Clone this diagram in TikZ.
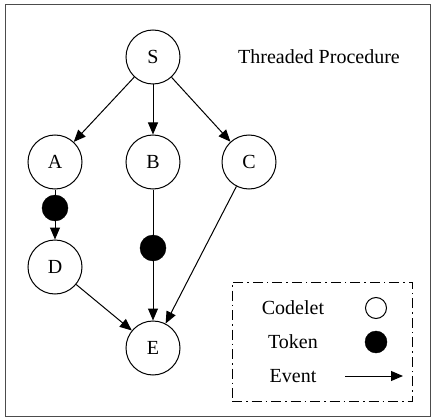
\documentclass[tikz,border=0pt]{standalone}
\usepackage{fontspec}
\setmainfont{Liberation Serif}
\usetikzlibrary{arrows.meta}
\begin{document}
\begin{tikzpicture}[x=1pt,y=-1pt,
  codelet/.style={circle,draw,line width=1pt,minimum size=54pt,inner sep=0pt,font=\fontsize{20}{24}\selectfont},
  token/.style={circle,fill=black,draw,minimum size=26pt,inner sep=0pt},
  edge/.style={line width=1pt,-{Triangle[length=12pt,width=10pt]}},
  lbl/.style={font=\fontsize{20}{24}\selectfont},
  legendbox/.style={line width=1pt,dash pattern=on 10pt off 4pt on 1.5pt off 4pt}]
\useasboundingbox (0,0) rectangle (431,417);
\draw[line width=0.7pt,black!70] (5,4) rectangle (430,416);
\node[codelet] (S) at (153,57) {S};
\node[codelet] (A) at (55,162) {A};
\node[codelet] (B) at (153,162) {B};
\node[codelet] (C) at (249,162) {C};
\node[codelet] (D) at (55,267) {D};
\node[codelet] (E) at (153,348) {E};
\node[lbl] (title) at (319,57) {Threaded Procedure};
\draw[edge] (S) -- (A);
\draw[edge] (S) -- (B);
\draw[edge] (S) -- (C);
\draw[edge] (A) -- (D);
\draw[edge] (B) -- (E);
\draw[edge] (C) -- (E);
\draw[edge] (D) -- (E);
\node[token] (t1) at (55,208) {};
\node[token] (t2) at (153,248) {};
\node[legendbox,draw,minimum width=180pt,minimum height=119pt,inner sep=0pt] (legend) at (322,341.5) {};
\node[lbl] (lc) at (293,308) {Codelet};
\node[lbl] (lt) at (293,342) {Token};
\node[lbl] (le) at (293,376) {Event};
\node[circle,draw,line width=1pt,minimum size=21pt,inner sep=0pt] (oc) at (376,308) {};
\node[circle,fill=black,draw,minimum size=22pt,inner sep=0pt] (ot) at (376,342) {};
\coordinate (ea) at (345,376);
\coordinate (eb) at (403,376);
\draw[edge] (ea) -- (eb);
\end{tikzpicture}
\end{document}
